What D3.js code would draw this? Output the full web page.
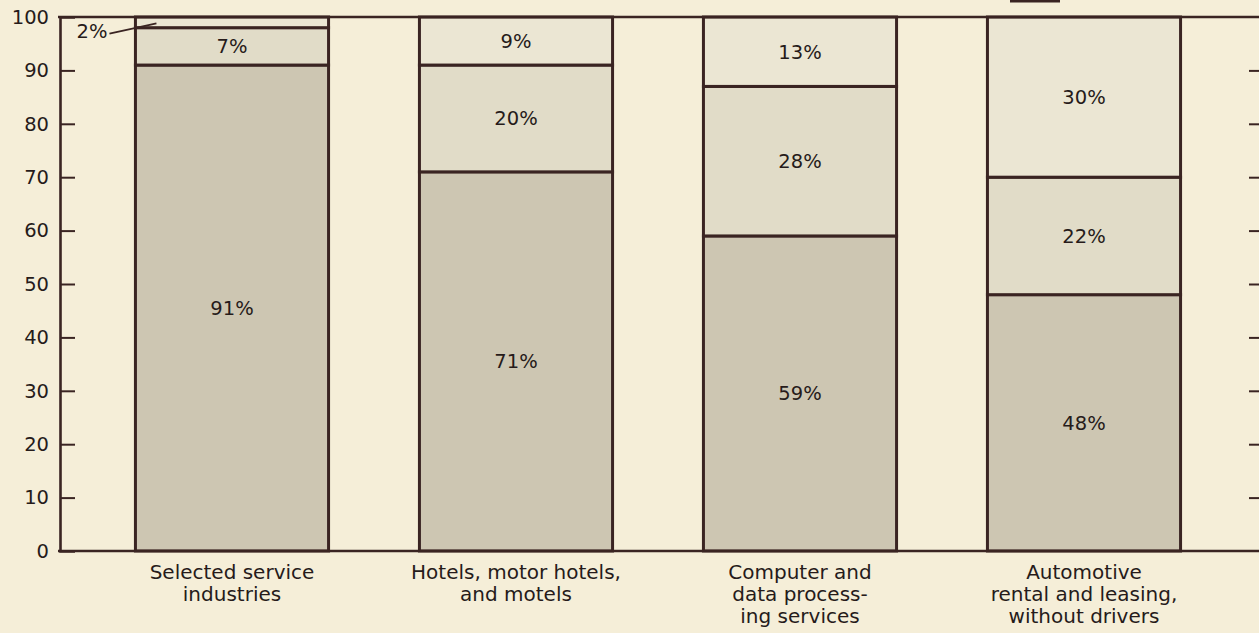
<!DOCTYPE html>
<html>
<head>
<meta charset="utf-8">
<script src="https://cdn.jsdelivr.net/npm/d3@7"></script>
<style>
  html, body { margin: 0; padding: 0; background: #f5eed8; }
  svg { display: block; }
  text { font-family: "DejaVu Sans", sans-serif; fill: #261b1a; }
</style>
</head>
<body>
<div id="chart_share"></div>
<script>
// categories (multi-line labels) and stacked values in percent
const categories = [
  ["Selected service", "industries"],
  ["Hotels, motor hotels,", "and motels"],
  ["Computer and", "data process-", "ing services"],
  ["Automotive", "rental and leasing,", "without drivers"]
];
const bottomShare = [91, 71, 59, 48];
const middleShare = [7, 20, 28, 22];
const topShare    = [2, 9, 13, 30];
const yTicks = [0, 10, 20, 30, 40, 50, 60, 70, 80, 90, 100];

(function () {
  const W = 1259, H = 633;
  const ink = "#3a2422";
  const fills = ["#cdc6b2", "#e1dcc8", "#ebe6d3"];

  const svg = d3.select("#chart_share").append("svg")
    .attr("width", W).attr("height", H);

  const keys = categories.map(c => c.join(" "));
  const x = d3.scaleBand()
    .domain(keys)
    .range([90, 1226])
    .paddingInner(0.32)
    .paddingOuter(0.16);
  const y = d3.scaleLinear().domain([0, 100]).range([551, 17]);

  // stacked data
  const rows = keys.map((k, i) => ({ key: k, s0: bottomShare[i], s1: middleShare[i], s2: topShare[i] }));
  const stack = d3.stack().keys(["s0", "s1", "s2"])(rows);

  // bars
  stack.forEach((layer, li) => {
    svg.append("g").selectAll("rect")
      .data(layer)
      .join("rect")
      .attr("x", d => x(d.data.key))
      .attr("y", d => y(d[1]))
      .attr("width", x.bandwidth())
      .attr("height", d => y(d[0]) - y(d[1]))
      .attr("fill", fills[li])
      .attr("stroke", ink)
      .attr("stroke-width", 3);
  });

  // percent labels inside segments (skip the thin 2% one)
  stack.forEach(layer => {
    svg.append("g").selectAll("text")
      .data(layer.filter(d => d[1] - d[0] >= 5))
      .join("text")
      .attr("x", d => x(d.data.key) + x.bandwidth() / 2)
      .attr("y", d => y((d[0] + d[1]) / 2))
      .attr("dy", "0.36em")
      .attr("text-anchor", "middle")
      .attr("font-size", 19.5)
      .text(d => (d[1] - d[0]) + "%");
  });

  // 2% call-out with leader line
  const thin = stack[2][0];
  const x0 = x(thin.data.key);
  svg.append("text")
    .attr("x", x0 - 28).attr("y", y(96))
    .attr("text-anchor", "end")
    .attr("font-size", 19.5)
    .text((thin[1] - thin[0]) + "%");
  svg.append("line")
    .attr("x1", x0 - 26).attr("y1", y(96.9))
    .attr("x2", x0 + 21).attr("y2", y(98.8))
    .attr("stroke", ink).attr("stroke-width", 1.8);

  // frame: top and bottom lines, left axis
  [0, 100].forEach(v => {
    svg.append("line")
      .attr("x1", 58).attr("x2", W)
      .attr("y1", y(v)).attr("y2", y(v))
      .attr("stroke", ink).attr("stroke-width", 2.6);
  });

  const yAxis = d3.axisLeft(y)
    .tickValues(yTicks)
    .tickSize(-15)
    .tickPadding(25)
    .tickFormat(d3.format("d"));
  const ga = svg.append("g").attr("transform", "translate(60,0)").call(yAxis);
  ga.select(".domain").attr("stroke", ink).attr("stroke-width", 2.6);
  ga.selectAll(".tick line").attr("stroke", ink).attr("stroke-width", 2)
    .filter(d => d === 0 || d === 100).remove();
  ga.selectAll(".tick text")
    .attr("font-size", 19.5)
    .attr("font-family", "DejaVu Sans, sans-serif")
    .attr("fill", "#261b1a")
    .attr("x", -11);

  // right side ticks
  const yRight = d3.axisRight(y)
    .tickValues(yTicks.filter(v => v > 0 && v < 100))
    .tickSize(-10)
    .tickFormat("");
  const gr = svg.append("g").attr("transform", `translate(${W},0)`).call(yRight);
  gr.select(".domain").remove();
  gr.selectAll(".tick line").attr("stroke", ink).attr("stroke-width", 2);

  // category labels
  const gl = svg.append("g").selectAll("text")
    .data(categories.map((lines, i) => ({ key: keys[i], lines })))
    .join("text")
    .attr("text-anchor", "middle")
    .attr("font-size", 20)
    .attr("x", d => x(d.key) + x.bandwidth() / 2);
  gl.selectAll("tspan")
    .data(d => d.lines.map(t => ({ t, cx: x(d.key) + x.bandwidth() / 2 })))
    .join("tspan")
    .attr("x", d => d.cx)
    .attr("y", (d, i) => 579 + i * 22)
    .text(d => d.t);

  // bit of a legend key cut off at the top edge
  svg.append("rect")
    .attr("x", 1010).attr("y", 0).attr("width", 50).attr("height", 2.5)
    .attr("fill", ink);
})();
</script>
</body>
</html>
